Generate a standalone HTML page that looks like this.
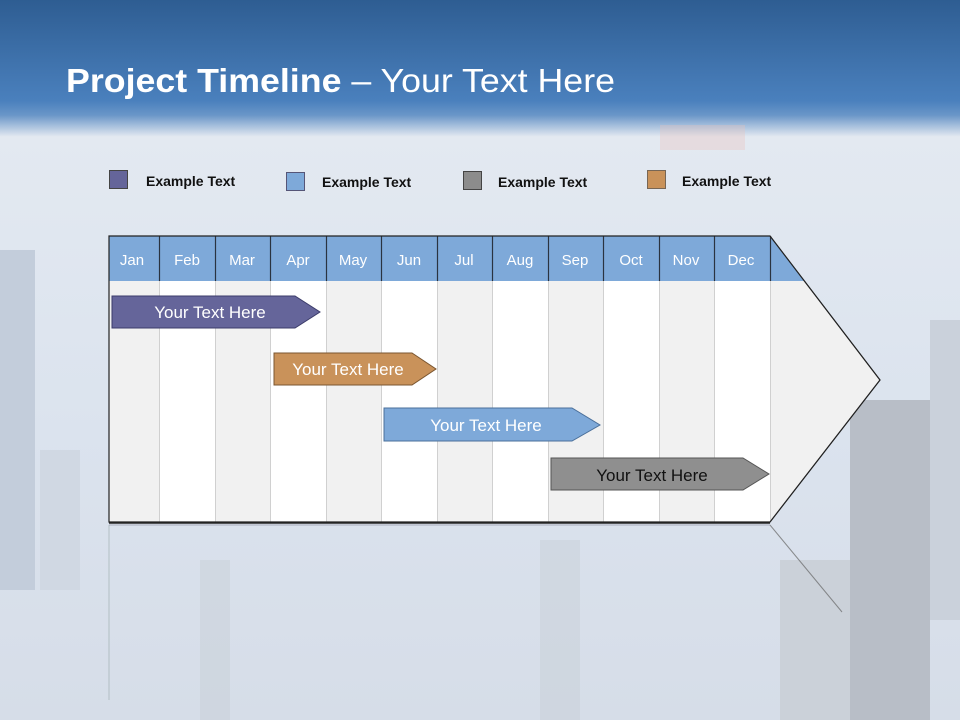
<!DOCTYPE html>
<html><head><meta charset="utf-8"><style>
html,body{margin:0;padding:0;width:960px;height:720px;overflow:hidden}
svg{display:block}
text{font-family:"Liberation Sans",sans-serif}
</style></head><body>
<svg width="960" height="720" viewBox="0 0 960 720" xmlns="http://www.w3.org/2000/svg">
<defs>
<linearGradient id="bg" x1="0" y1="0" x2="0" y2="1">
<stop offset="0" stop-color="#2e5d92"/>
<stop offset="0.14" stop-color="#4a80bd"/>
<stop offset="0.16" stop-color="#6a96c8"/>
<stop offset="0.19" stop-color="#e3e9f1"/>
<stop offset="0.6" stop-color="#dbe3ee"/>
<stop offset="1" stop-color="#d6dde8"/>
</linearGradient>
</defs>
<rect width="960" height="720" fill="url(#bg)"/>
<rect x="0" y="250" width="35" height="340" fill="#c3cddb"/>
<rect x="40" y="450" width="40" height="140" fill="#d0d8e3"/>
<rect x="850" y="400" width="80" height="320" fill="#b8bec7"/>
<rect x="930" y="320" width="30" height="300" fill="#cad1db"/>
<rect x="780" y="560" width="70" height="160" fill="#cbd1d9"/>
<rect x="200" y="560" width="30" height="160" fill="#c8cfd8" opacity="0.5"/>
<rect x="540" y="540" width="40" height="180" fill="#c8cfd8" opacity="0.5"/>
<rect x="660" y="125" width="85" height="25" fill="#e8c4bc" opacity="0.35"/>

<text x="66" y="92" font-size="33" fill="#fff" font-weight="bold" textLength="549" lengthAdjust="spacingAndGlyphs">Project Timeline <tspan font-weight="normal">– Your Text Here</tspan></text>

<!-- legend -->
<g font-size="14" font-weight="bold" fill="#111">
<rect x="109.5" y="170.5" width="18" height="18" fill="#65659a" stroke="#444"/>
<text x="146" y="186">Example Text</text>
<rect x="286.5" y="172.5" width="18" height="18" fill="#7ea9d9" stroke="#557"/>
<text x="322" y="187">Example Text</text>
<rect x="463.5" y="171.5" width="18" height="18" fill="#8c8c8c" stroke="#444"/>
<text x="498" y="187">Example Text</text>
<rect x="647.5" y="170.5" width="18" height="18" fill="#c9925a" stroke="#765"/>
<text x="682" y="186">Example Text</text>
</g>

<!-- reflection -->
<line x1="109" y1="525" x2="109" y2="700" stroke="#9aa" stroke-width="1" opacity="0.6"/>
<line x1="109" y1="525" x2="770" y2="525" stroke="#889" stroke-width="1" opacity="0.6"/>
<line x1="770" y1="525" x2="842" y2="612" stroke="#666" stroke-width="1" opacity="0.7"/>

<!-- main arrow body -->
<polygon points="109,236 770,236 880,380 770,522 109,522" fill="#f1f1f1" stroke="#222" stroke-width="1"/>
<g fill="#ffffff">
<rect x="159" y="281" width="56" height="241"/>
<rect x="270" y="281" width="56" height="241"/>
<rect x="381" y="281" width="56" height="241"/>
<rect x="492" y="281" width="56" height="241"/>
<rect x="603" y="281" width="56" height="241"/>
<rect x="714" y="281" width="56" height="241"/>
</g>
<g stroke="#d0d0d0" stroke-width="1">
<line x1="159.5" y1="281" x2="159.5" y2="522"/><line x1="215.5" y1="281" x2="215.5" y2="522"/>
<line x1="270.5" y1="281" x2="270.5" y2="522"/><line x1="326.5" y1="281" x2="326.5" y2="522"/>
<line x1="381.5" y1="281" x2="381.5" y2="522"/><line x1="437.5" y1="281" x2="437.5" y2="522"/>
<line x1="492.5" y1="281" x2="492.5" y2="522"/><line x1="548.5" y1="281" x2="548.5" y2="522"/>
<line x1="603.5" y1="281" x2="603.5" y2="522"/><line x1="659.5" y1="281" x2="659.5" y2="522"/>
<line x1="714.5" y1="281" x2="714.5" y2="522"/><line x1="770.5" y1="281" x2="770.5" y2="522"/>
</g>
<polygon points="109,236 770,236 805,281 109,281" fill="#7ea9d9"/>
<g stroke="#2a3340" stroke-width="1.2">
<line x1="159.5" y1="236" x2="159.5" y2="281"/><line x1="215.5" y1="236" x2="215.5" y2="281"/>
<line x1="270.5" y1="236" x2="270.5" y2="281"/><line x1="326.5" y1="236" x2="326.5" y2="281"/>
<line x1="381.5" y1="236" x2="381.5" y2="281"/><line x1="437.5" y1="236" x2="437.5" y2="281"/>
<line x1="492.5" y1="236" x2="492.5" y2="281"/><line x1="548.5" y1="236" x2="548.5" y2="281"/>
<line x1="603.5" y1="236" x2="603.5" y2="281"/><line x1="659.5" y1="236" x2="659.5" y2="281"/>
<line x1="714.5" y1="236" x2="714.5" y2="281"/><line x1="770.5" y1="236" x2="770.5" y2="281"/>
</g>
<polygon points="109,236 770,236 880,380 770,522 109,522" fill="none" stroke="#222" stroke-width="1.2"/>
<line x1="109" y1="523" x2="770" y2="523" stroke="#222" stroke-width="1.5"/>
<g font-size="15" fill="#fff" text-anchor="middle">
<text x="132" y="265">Jan</text><text x="187" y="265">Feb</text><text x="242" y="265">Mar</text>
<text x="298" y="265">Apr</text><text x="353" y="265">May</text><text x="409" y="265">Jun</text>
<text x="464" y="265">Jul</text><text x="520" y="265">Aug</text><text x="575" y="265">Sep</text>
<text x="631" y="265">Oct</text><text x="686" y="265">Nov</text><text x="741" y="265">Dec</text>
</g>

<!-- bars -->
<g font-size="17" text-anchor="middle">
<polygon points="112,296 295,296 320,312 295,328 112,328" fill="#65659a" stroke="#3c3c6a"/>
<text x="210" y="318" fill="#fff">Your  Text Here</text>
<polygon points="274,353 412,353 436,369 412,385 274,385" fill="#c9925a" stroke="#7a5530"/>
<text x="348" y="375" fill="#fff">Your  Text Here</text>
<polygon points="384,408 572,408 600,425 572,441 384,441" fill="#7ea9d9" stroke="#4a6f9a"/>
<text x="486" y="431" fill="#fff">Your  Text Here</text>
<polygon points="551,458 743,458 769,474 743,490 551,490" fill="#8f8f8f" stroke="#555"/>
<text x="652" y="481" fill="#111">Your  Text Here</text>
</g>
</svg>
</body></html>
